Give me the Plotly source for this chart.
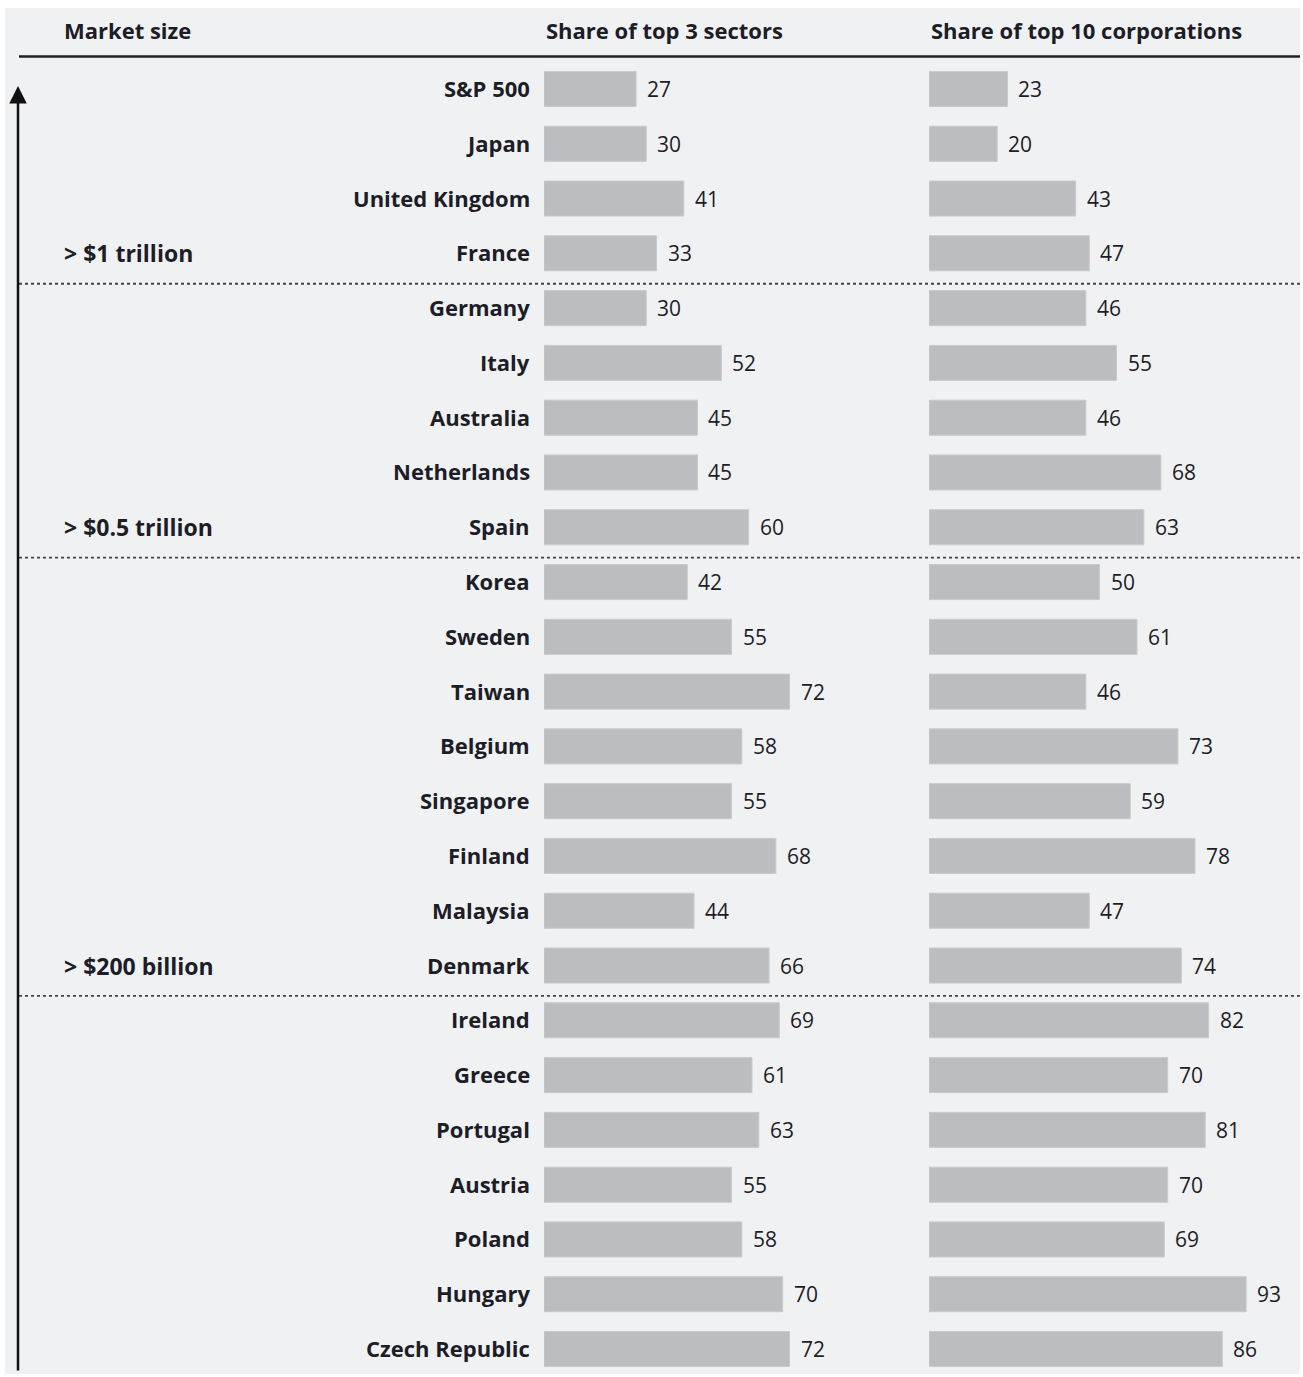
import plotly.graph_objects as go

# Market concentration by country, ordered by market size
countries = ["S&P 500", "Japan", "United Kingdom", "France", "Germany", "Italy",
             "Australia", "Netherlands", "Spain", "Korea", "Sweden", "Taiwan",
             "Belgium", "Singapore", "Finland", "Malaysia", "Denmark", "Ireland",
             "Greece", "Portugal", "Austria", "Poland", "Hungary", "Czech Republic"]
top3_sectors = [27, 30, 41, 33, 30, 52, 45, 45, 60, 42, 55, 72,
                58, 55, 68, 44, 66, 69, 61, 63, 55, 58, 70, 72]
top10_corps = [23, 20, 43, 47, 46, 55, 46, 68, 63, 50, 61, 46,
               73, 59, 78, 47, 74, 82, 70, 81, 70, 69, 93, 86]

# market-size groups: label and the last row index of each group
group_labels = ["> $1 trillion", "> $0.5 trillion", "> $200 billion"]
group_last_row = [3, 8, 16]

column_titles = ["Market size", "Share of top 3 sectors", "Share of top 10 corporations"]

W, H = 1303, 1377
BG = "#f0f1f3"
BAR = "#bcbdc0"
INK = "#1d1d28"
FONT = "Open Sans, Noto Sans, DejaVu Sans, sans-serif"


def px_x(p):
    return p / W


def px_y(p):
    return 1 - p / H


rows = list(range(len(countries)))

fig = go.Figure()
fig.add_trace(go.Bar(x=top3_sectors, y=rows, orientation="h", xaxis="x", yaxis="y",
                     marker=dict(color=BAR, line=dict(color="#c9cacc", width=1)),
                     hoverinfo="x+y", showlegend=False))
fig.add_trace(go.Bar(x=top10_corps, y=rows, orientation="h", xaxis="x2", yaxis="y",
                     marker=dict(color=BAR, line=dict(color="#c9cacc", width=1)),
                     hoverinfo="x+y", showlegend=False))

bold = dict(family=FONT, size=22, color=INK, weight=700)
plain = dict(family=FONT, size=21, color=INK)

annotations = []
# country names, right-aligned against the bars
for i, name in zip(rows, countries):
    annotations.append(dict(x=0, y=i, xref="x", yref="y", text=name, showarrow=False,
                            xanchor="right", yanchor="middle", xshift=-12, yshift=1,
                            font=bold))
# value labels
for i, v in zip(rows, top3_sectors):
    annotations.append(dict(x=v, y=i, xref="x", yref="y", text=str(v), showarrow=False,
                            xanchor="left", yanchor="middle", xshift=9, font=plain))
for i, v in zip(rows, top10_corps):
    annotations.append(dict(x=v, y=i, xref="x2", yref="y", text=str(v), showarrow=False,
                            xanchor="left", yanchor="middle", xshift=9, font=plain))
# group labels
for lbl, r in zip(group_labels, group_last_row):
    annotations.append(dict(x=px_x(62), y=r, xref="paper", yref="y", text=lbl,
                            showarrow=False, xanchor="left", yanchor="middle",
                            font=dict(bold, size=23)))
# column titles
annotations.append(dict(x=px_x(62), y=px_y(30), xref="paper", yref="paper",
                        text=column_titles[0], showarrow=False, xanchor="left",
                        yanchor="middle", font=bold))
annotations.append(dict(x=0, y=px_y(30), xref="x", yref="paper",
                        text=column_titles[1], showarrow=False, xanchor="left",
                        yanchor="middle", font=bold))
annotations.append(dict(x=0, y=px_y(30), xref="x2", yref="paper",
                        text=column_titles[2], showarrow=False, xanchor="left",
                        yanchor="middle", font=bold))
# upward market-size arrow
annotations.append(dict(x=px_x(18), y=px_y(86), xref="paper", yref="paper", text="",
                        showarrow=True, ax=0, ay=1286, axref="pixel", ayref="pixel",
                        arrowhead=2, arrowsize=1.4, arrowwidth=2.5, arrowcolor="#111111"))

shapes = [
    # panel background
    dict(type="rect", xref="paper", yref="paper", x0=px_x(5), x1=px_x(1300),
         y0=px_y(1374), y1=px_y(8), fillcolor=BG, line=dict(width=0), layer="below"),
    # header rule
    dict(type="line", xref="paper", yref="paper", x0=px_x(19), x1=px_x(1300),
         y0=px_y(56.5), y1=px_y(56.5), line=dict(color="#222222", width=2.5)),
]
# dotted separators between market-size groups
for r in group_last_row:
    shapes.append(dict(type="line", xref="paper", yref="y", x0=px_x(19), x1=px_x(1300),
                       y0=r + 0.555, y1=r + 0.555,
                       line=dict(color="#444444", width=1.8, dash="dot")))

fig.update_layout(
    width=W, height=H,
    margin=dict(l=0, r=0, t=0, b=0),
    paper_bgcolor="white", plot_bgcolor="rgba(0,0,0,0)",
    bargap=0.36,
    xaxis=dict(domain=[px_x(544), px_x(885)], range=[0, 100], visible=False,
               fixedrange=True),
    xaxis2=dict(domain=[px_x(929), px_x(1270)], range=[0, 100], visible=False,
                anchor="y", fixedrange=True),
    yaxis=dict(domain=[1 - 1376.4 / H, 1 - 61.6 / H], range=[23.5, -0.5],
               visible=False, fixedrange=True),
    annotations=annotations,
    shapes=shapes,
)

fig.write_html("out.html")
